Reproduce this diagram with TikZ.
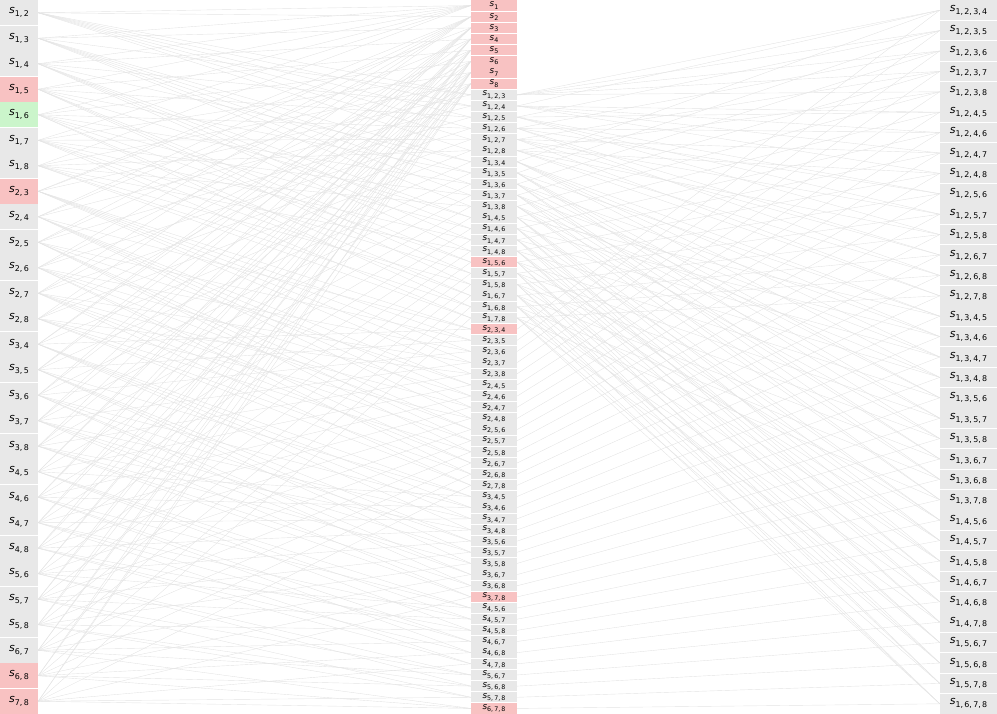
\documentclass[tikz,border=0pt]{standalone}
\usepackage{fontspec}
\setmainfont{DejaVu Sans}
\usetikzlibrary{backgrounds}
\definecolor{cellgray}{HTML}{E8E8E8}
\definecolor{cellpink}{HTML}{F8C2C2}
\definecolor{cellgreen}{HTML}{CBF5CB}
\definecolor{edgegray}{HTML}{E4E4E4}
\newcommand\slab[1]{\textit{s}\raisebox{-0.26em}{\scalebox{0.72}{#1}}}
\newcount\cnt
\begin{document}
\begin{tikzpicture}[x=1pt,y=-1pt,
  cell/.style={draw=none,fill=cellgray,inner sep=0pt,anchor=center},
  lcell/.style={cell,minimum width=38pt,minimum height=24.6pt,font=\fontsize{11}{11}\selectfont},
  mcell/.style={cell,minimum width=46pt,minimum height=10.3pt,font=\fontsize{8.8}{8.8}\selectfont},
  rcell/.style={cell,minimum width=57pt,minimum height=19.5pt,font=\fontsize{11}{11}\selectfont},
  hot/.style={fill=cellpink},
  good/.style={fill=cellgreen},
  hl-L-1-5/.style={hot}, hl-L-1-6/.style={good}, hl-L-2-3/.style={hot},
  hl-L-6-8/.style={hot}, hl-L-7-8/.style={hot},
  hl-T-1-5-6/.style={hot}, hl-T-2-3-4/.style={hot}, hl-T-3-7-8/.style={hot},
  hl-T-6-7-8/.style={hot},
  link/.style={draw=edgegray,line width=0.4pt}]
\useasboundingbox (0,0) rectangle (997,714);
% left column: pairs
\global\cnt=0
\foreach \i in {1,...,7}{
  \pgfmathtruncatemacro\ip{\i+1}
  \foreach \j in {\ip,...,8}{
    \node[lcell,hl-L-\i-\j/.try] (L-\i-\j) at (19,{(\the\cnt+0.5)*25.5}) {\slab{\i,\,\j}};
    \global\advance\cnt by 1
  }}
% middle column: singletons
\foreach \i in {1,...,8}{
  \node[mcell,hot] (M-\i) at (494,{(\i-0.5)*11.15625}) {\slab{\i}};
}
% middle column: triples
\global\cnt=8
\foreach \i in {1,...,6}{
  \pgfmathtruncatemacro\ip{\i+1}
  \foreach \j in {\ip,...,7}{
    \pgfmathtruncatemacro\jp{\j+1}
    \foreach \k in {\jp,...,8}{
      \node[mcell,hl-T-\i-\j-\k/.try] (T-\i-\j-\k) at (494,{(\the\cnt+0.5)*11.15625}) {\slab{\i,\,\j,\,\k}};
      \global\advance\cnt by 1
    }}}
% right column: quadruples containing 1
\global\cnt=0
\foreach \a in {2,...,6}{
  \pgfmathtruncatemacro\ap{\a+1}
  \foreach \b in {\ap,...,7}{
    \pgfmathtruncatemacro\bp{\b+1}
    \foreach \c in {\bp,...,8}{
      \node[rcell] (R-\a-\b-\c) at (968.5,{(\the\cnt+0.5)*20.4}) {\slab{1,\,\a,\,\b,\,\c}};
      \global\advance\cnt by 1
    }}}
\begin{pgfonlayer}{background}
\foreach \i in {1,...,7}{
  \pgfmathtruncatemacro\ip{\i+1}
  \foreach \j in {\ip,...,8}{
    \draw[link] (L-\i-\j.east) -- (M-\i.west);
    \draw[link] (L-\i-\j.east) -- (M-\j.west);
    \foreach \k in {1,...,8}{
      \ifnum\k<\i \draw[link] (L-\i-\j.east) -- (T-\k-\i-\j.west);\fi
      \ifnum\k>\i \ifnum\k<\j \draw[link] (L-\i-\j.east) -- (T-\i-\k-\j.west);\fi\fi
      \ifnum\k>\j \draw[link] (L-\i-\j.east) -- (T-\i-\j-\k.west);\fi
    }
  }}
\foreach \a in {2,...,6}{
  \pgfmathtruncatemacro\ap{\a+1}
  \foreach \b in {\ap,...,7}{
    \pgfmathtruncatemacro\bp{\b+1}
    \foreach \c in {\bp,...,8}{
      \draw[link] (T-1-\a-\b.east) -- (R-\a-\b-\c.west);
      \draw[link] (T-1-\a-\c.east) -- (R-\a-\b-\c.west);
      \draw[link] (T-1-\b-\c.east) -- (R-\a-\b-\c.west);
      \draw[link] (T-\a-\b-\c.east) -- (R-\a-\b-\c.west);
    }}}
\end{pgfonlayer}
\end{tikzpicture}
\end{document}
